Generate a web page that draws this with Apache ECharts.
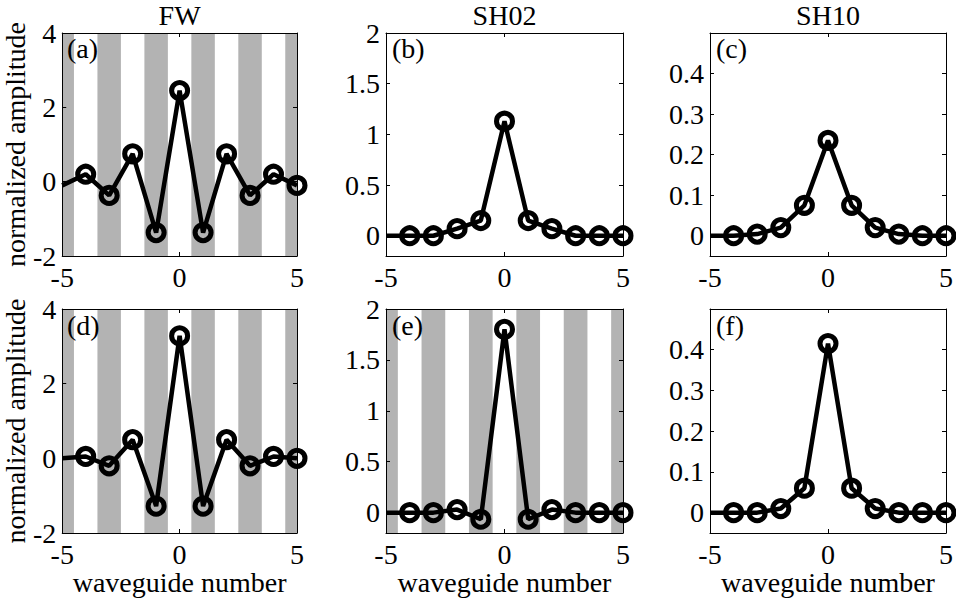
<!DOCTYPE html>
<html><head><meta charset="utf-8">
<script src="https://cdn.jsdelivr.net/npm/echarts@6/dist/echarts.min.js"></script>
<style>html,body{margin:0;padding:0;background:#fff}#c{width:956px;height:598px}</style>
</head><body><div id="c"></div>
<script>
// ---- data ----
const waveguides = [-5, -4, -3, -2, -1, 0, 1, 2, 3, 4, 5];
const fwTop      = [-0.1, 0.2, -0.37, 0.75, -1.37, 2.45, -1.37, 0.75, -0.37, 0.2, -0.1];
const sh02Top    = [0, 0, 0, 0.07, 0.15, 1.13, 0.15, 0.07, 0, 0, 0];
const sh10Top    = [0, 0, 0.004, 0.02, 0.075, 0.235, 0.075, 0.02, 0.004, 0, 0];
const fwBottom   = [0, 0.05, -0.2, 0.5, -1.28, 3.28, -1.28, 0.5, -0.2, 0.05, 0];
const sh02Bottom = [0, 0, 0, 0.03, -0.065, 1.8, -0.065, 0.03, 0, 0, 0];
const sh10Bottom = [0, 0, 0, 0.01, 0.06, 0.415, 0.06, 0.01, 0, 0, 0];
const columnTitles = ['FW', 'SH02', 'SH10'];
const panelLetters = ['(a)', '(b)', '(c)', '(d)', '(e)', '(f)'];
const xTicks = [-5, 0, 5];
const fwTicks = [-2, 0, 2, 4];
const sh02Ticks = [0, 0.5, 1, 1.5, 2];
const sh10Ticks = [0, 0.1, 0.2, 0.3, 0.4];
const bandRanges = [[-5, -4.5], [-3.5, -2.5], [-1.5, -0.5], [0.5, 1.5], [2.5, 3.5], [4.5, 5]];
const xLabel = 'waveguide number';
const yLabel = 'normalized amplitude';

// ---- layout / style ----
const FONT = 'Liberation Serif';
const FS = 28;
const gridLefts = [61, 386, 710];
const gridWidths = [236, 237, 237];
const gridTops = [32, 309];
const gridH = 224;

const panels = [
  { values: fwTop,      yMin: -2,    yMax: 4,   ticks: fwTicks,   shaded: true },
  { values: sh02Top,    yMin: -0.2,  yMax: 2,   ticks: sh02Ticks, shaded: false },
  { values: sh10Top,    yMin: -0.05, yMax: 0.5, ticks: sh10Ticks, shaded: false },
  { values: fwBottom,   yMin: -2,    yMax: 4,   ticks: fwTicks,   shaded: true },
  { values: sh02Bottom, yMin: -0.2,  yMax: 2,   ticks: sh02Ticks, shaded: true },
  { values: sh10Bottom, yMin: -0.05, yMax: 0.5, ticks: sh10Ticks, shaded: false }
];

const txt = { fontFamily: FONT, fontSize: FS, color: '#000' };
const lineBlack = { color: '#000', width: 1 };
const grid = [], xAxis = [], yAxis = [], series = [], graphic = [];

panels.forEach((p, i) => {
  const r = Math.floor(i / 3), c = i % 3;
  grid.push({ left: gridLefts[c], top: gridTops[r], width: gridWidths[c], height: gridH, containLabel: false });
  const tickCommon = { inside: true, length: 4, lineStyle: lineBlack };
  xAxis.push({
    gridIndex: i, type: 'value', position: 'bottom', min: -5, max: 5, z: 3,
    axisLine: { onZero: false, lineStyle: lineBlack },
    axisTick: Object.assign({ customValues: xTicks }, tickCommon),
    axisLabel: Object.assign({ customValues: xTicks, margin: 7 }, txt),
    splitLine: { show: false },
    name: r === 1 ? xLabel : '', nameLocation: 'middle', nameGap: 33,
    nameTextStyle: txt
  });
  xAxis.push({
    gridIndex: i, type: 'value', position: 'top', min: -5, max: 5, z: 3,
    axisLine: { onZero: false, lineStyle: lineBlack },
    axisTick: Object.assign({ customValues: xTicks }, tickCommon),
    axisLabel: { show: false },
    splitLine: { show: false },
    name: r === 0 ? columnTitles[c] : '', nameLocation: 'middle', nameGap: 4,
    nameTextStyle: txt
  });
  yAxis.push({
    gridIndex: i, type: 'value', position: 'left', min: p.yMin, max: p.yMax, z: 3,
    axisLine: { onZero: false, lineStyle: lineBlack },
    axisTick: Object.assign({ customValues: p.ticks }, tickCommon),
    axisLabel: Object.assign({ customValues: p.ticks, margin: 6 }, txt),
    splitLine: { show: false },
    name: c === 0 ? yLabel : '', nameLocation: 'middle', nameGap: 27,
    nameTextStyle: txt
  });
  yAxis.push({
    gridIndex: i, type: 'value', position: 'right', min: p.yMin, max: p.yMax, z: 3,
    axisLine: { onZero: false, lineStyle: lineBlack },
    axisTick: Object.assign({ customValues: p.ticks }, tickCommon),
    axisLabel: { show: false },
    splitLine: { show: false }
  });

  if (p.shaded) {
    series.push({
      type: 'line', xAxisIndex: 2 * i, yAxisIndex: 2 * i, data: [], z: 1, silent: true,
      markArea: {
        silent: true,
        itemStyle: { color: '#b3b3b3' },
        data: bandRanges.map(b => [{ xAxis: b[0] }, { xAxis: b[1] }])
      }
    });
  }
  series.push({
    type: 'line', xAxisIndex: 2 * i, yAxisIndex: 2 * i, z: 4, clip: false,
    data: waveguides.map((x, k) => k === 0
      ? { value: [x, p.values[k]], symbol: 'none' }
      : [x, p.values[k]]),
    symbol: 'circle', symbolSize: 16, showAllSymbol: true,
    itemStyle: { color: 'rgba(0,0,0,0)', borderColor: '#000', borderWidth: 5 },
    lineStyle: { color: '#000', width: 4.5 },
    emphasis: { disabled: true },
    animation: false
  });
  graphic.push({
    type: 'text', left: gridLefts[c] + 6, top: gridTops[r] + 2, z: 10,
    style: { text: panelLetters[i], font: FS + 'px "' + FONT + '"', fill: '#000' }
  });
});

const chart = echarts.init(document.getElementById('c'), null, { renderer: 'svg' });
chart.setOption({ animation: false, backgroundColor: '#fff', grid, xAxis, yAxis, series, graphic });
</script>
</body></html>
